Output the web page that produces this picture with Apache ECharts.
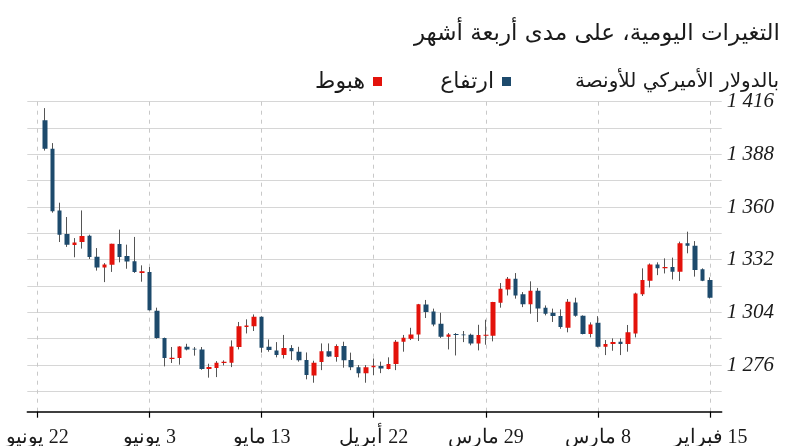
<!DOCTYPE html>
<html><head><meta charset="utf-8">
<script src="https://cdn.jsdelivr.net/npm/echarts@6/dist/echarts.min.js"></script>
<style>html,body{margin:0;padding:0;background:#fff}#c{width:792px;height:446px}</style>
</head><body><div id="c"></div>
<script>
// trading-day index: 0 = 15 Feb (right edge), 89 = last day (left edge)
const dayIndex = Array.from({length: 90}, (_, i) => i);
const openP  = [1311.8,1320.8,1326.5,1339.4,1340.7,1325.6,1328.1,1327.4,1329.5,1321.2,
                1314.1,1293.4,1287.2,1288.2,1287.2,1285.7,1297.6,1292.5,1302.2,1309.7,
                1296.2,1302.1,1303.3,1306.0,1315.5,1308.3,1313.0,1321.9,1316.6,1309.5,
                1292.1,1292.0,1287.5,1291.8,1292.0,1292.3,1291.1,1297.6,1304.2,1308.3,
                1292.3,1290.5,1288.4,1276.5,1274.1,1275.6,1274.8,1271.6,1274.8,1278.5,
                1286.1,1280.6,1283.4,1277.2,1270.7,1278.5,1283.3,1285.0,1281.3,1284.0,
                1285.2,1301.7,1297.0,1296.6,1285.9,1277.8,1277.2,1274.9,1273.9,1284.2,
                1284.3,1285.9,1279.9,1279.7,1290.4,1305.1,1325.8,1325.5,1331.0,1333.4,
                1340.5,1329.5,1327.9,1333.4,1344.6,1341.2,1340.0,1345.3,1357.7,1391.0];
const closeP = [1321.2,1326.9,1339.4,1340.7,1325.6,1328.1,1327.4,1329.5,1320.8,1313.7,
                1292.8,1287.2,1288.4,1287.2,1285.7,1298.5,1292.5,1302.2,1309.3,1295.8,
                1302.1,1303.8,1306.5,1315.5,1308.3,1313.6,1321.9,1316.2,1309.1,1291.6,
                1291.6,1287.5,1292.1,1292.3,1292.5,1291.1,1298.0,1304.5,1308.2,1292.3,
                1290.0,1288.4,1276.5,1273.9,1275.5,1274.8,1271.6,1274.8,1278.7,1286.1,
                1280.3,1283.4,1277.6,1270.5,1278.7,1283.1,1285.0,1281.3,1283.8,1285.7,
                1301.7,1296.6,1296.2,1285.6,1277.2,1277.1,1274.4,1273.9,1284.3,1284.6,
                1285.7,1279.7,1279.2,1290.4,1304.9,1325.5,1325.0,1331.2,1334.0,1340.3,
                1329.3,1327.8,1333.6,1344.8,1341.4,1339.8,1345.7,1358.2,1391.0,1406.1];
const lowP   = [1311.4,1320.6,1323.0,1335.4,1320.7,1321.5,1324.7,1323.8,1317.3,1312.7,
                1290.7,1283.1,1281.3,1283.6,1281.3,1285.4,1290.7,1292.3,1301.7,1293.4,
                1295.3,1298.9,1302.4,1298.9,1303.3,1306.8,1311.3,1313.0,1306.5,1288.6,
                1286.8,1283.8,1286.5,1288.2,1281.1,1284.3,1290.4,1296.6,1301.0,1288.8,
                1289.3,1283.1,1273.3,1273.7,1271.7,1270.7,1266.6,1269.4,1273.3,1274.6,
                1277.8,1280.3,1273.3,1266.6,1268.4,1277.8,1278.7,1279.5,1280.1,1283.1,
                1282.6,1294.1,1292.8,1284.3,1274.9,1275.8,1269.6,1269.3,1273.5,1281.0,
                1283.8,1276.2,1277.1,1275.3,1290.0,1305.0,1320.3,1325.0,1327.2,1330.6,
                1325.5,1320.1,1326.2,1332.4,1337.9,1333.3,1338.8,1341.4,1357.0,1390.0];
const highP  = [1322.6,1327.4,1341.9,1346.9,1341.6,1333.1,1332.7,1330.6,1330.0,1327.4,
                1314.5,1297.3,1290.2,1290.2,1289.3,1302.0,1298.7,1302.4,1311.8,1311.1,
                1305.6,1306.0,1307.7,1317.0,1320.5,1314.8,1324.9,1322.8,1319.6,1309.6,
                1300.1,1297.4,1292.7,1294.1,1293.0,1293.0,1303.8,1306.0,1310.6,1308.5,
                1295.8,1292.0,1289.3,1280.1,1277.8,1279.5,1276.0,1276.0,1282.6,1288.4,
                1287.0,1287.5,1287.5,1278.3,1282.7,1285.7,1286.6,1292.0,1288.2,1289.6,
                1301.9,1302.9,1300.3,1298.9,1289.1,1278.5,1278.1,1276.7,1285.6,1285.6,
                1287.3,1286.0,1285.6,1290.6,1306.5,1328.1,1329.0,1344.1,1340.0,1348.0,
                1340.5,1330.2,1338.2,1345.3,1358.2,1343.5,1354.7,1362.3,1394.0,1412.6];
const tickPositions = [0, 15, 30, 45, 60, 75, 90];
const tickLabels = ['15 فبراير', '8 مارس', '29 مارس', '22 أبريل', '13 مايو', '3 يونيو', '22 يونيو'];
const priceLabels = [1276, 1304, 1332, 1360, 1388, 1416];
const priceGrid = [1262, 1276, 1290, 1304, 1318, 1332, 1346, 1360, 1374, 1388, 1402, 1416];
const subtitleText = 'التغيرات اليومية، على مدى أربعة أشهر';
const unitText = 'بالدولار الأميركي للأونصة';
const riseName = 'ارتفاع';
const fallName = 'هبوط';

const BLUE = '#1d4a6c', RED = '#e3120b', WICK = '#555555';
const candleData = dayIndex.map(i => [i, openP[i], closeP[i], lowP[i], highP[i]]);
const fmtPrice = v => String(v).replace(/\B(?=(\d{3})+(?!\d))/g, ' ');
const ARAB = "'DejaVu Sans', 'Noto Sans', sans-serif";

const chart = echarts.init(document.getElementById('c'), null, {renderer: 'canvas'});
chart.setOption({
  animation: false,
  backgroundColor: '#ffffff',
  grid: {left: 27.3, right: 70.3, top: 101.7, bottom: 34.3, outerBoundsMode: 'none', containLabel: false},
  xAxis: {
    type: 'value', inverse: true, min: -1.565, max: 91.34,
    axisLine: {show: true, onZero: false, lineStyle: {color: '#000', width: 1.5}},
    axisTick: {show: true, customValues: tickPositions, length: 6, lineStyle: {color: '#000', width: 1.2}},
    axisLabel: {customValues: tickPositions, margin: 16, color: '#1a1a1a', fontSize: 20,
      fontFamily: "'Liberation Serif', serif",
      formatter: v => '\u200F' + tickLabels[tickPositions.indexOf(v)]},
    splitLine: {show: true, lineStyle: {color: '#c8c8c8', type: [4, 5], width: 1}}
  },
  yAxis: {
    type: 'value', position: 'right', min: 1251.2, max: 1416, scale: true,
    axisLine: {show: false}, axisTick: {show: false, customValues: priceGrid},
    axisLabel: {customValues: priceLabels, margin: 5, color: '#1a1a1a', fontSize: 21,
      fontStyle: 'italic', fontFamily: "'Liberation Serif', serif", formatter: fmtPrice},
    splitLine: {show: true, lineStyle: {color: '#d6d6d6', width: 1.2}}
  },
  series: [
    {type: 'candlestick', name: 'wick', data: candleData, barWidth: 1, z: 2, silent: true,
     itemStyle: {color: WICK, color0: WICK, borderColor: WICK, borderColor0: WICK, borderWidth: 1}},
    {type: 'candlestick', name: 'body', data: candleData, barWidth: 5, z: 3, silent: true,
     itemStyle: {color: BLUE, color0: RED, borderColor: 'rgba(0,0,0,0)', borderColor0: 'rgba(0,0,0,0)', borderWidth: 0}}
  ],
  graphic: [
    {type: 'text', right: 12, top: 23, style: {text: subtitleText, font: "23px " + ARAB, fill: '#1a1a1a'}},
    {type: 'text', right: 13, top: 72, style: {text: unitText, font: "20px " + ARAB, fill: '#1a1a1a'}},
    {type: 'rect', left: 502, top: 77, shape: {width: 9, height: 9}, style: {fill: BLUE}},
    {type: 'text', right: 792 - 494, top: 71, style: {text: riseName, font: "22px " + ARAB, fill: '#1a1a1a'}},
    {type: 'rect', left: 373, top: 77, shape: {width: 9, height: 9}, style: {fill: RED}},
    {type: 'text', right: 792 - 365, top: 71, style: {text: fallName, font: "22px " + ARAB, fill: '#1a1a1a'}}
  ]
});
</script></body></html>
